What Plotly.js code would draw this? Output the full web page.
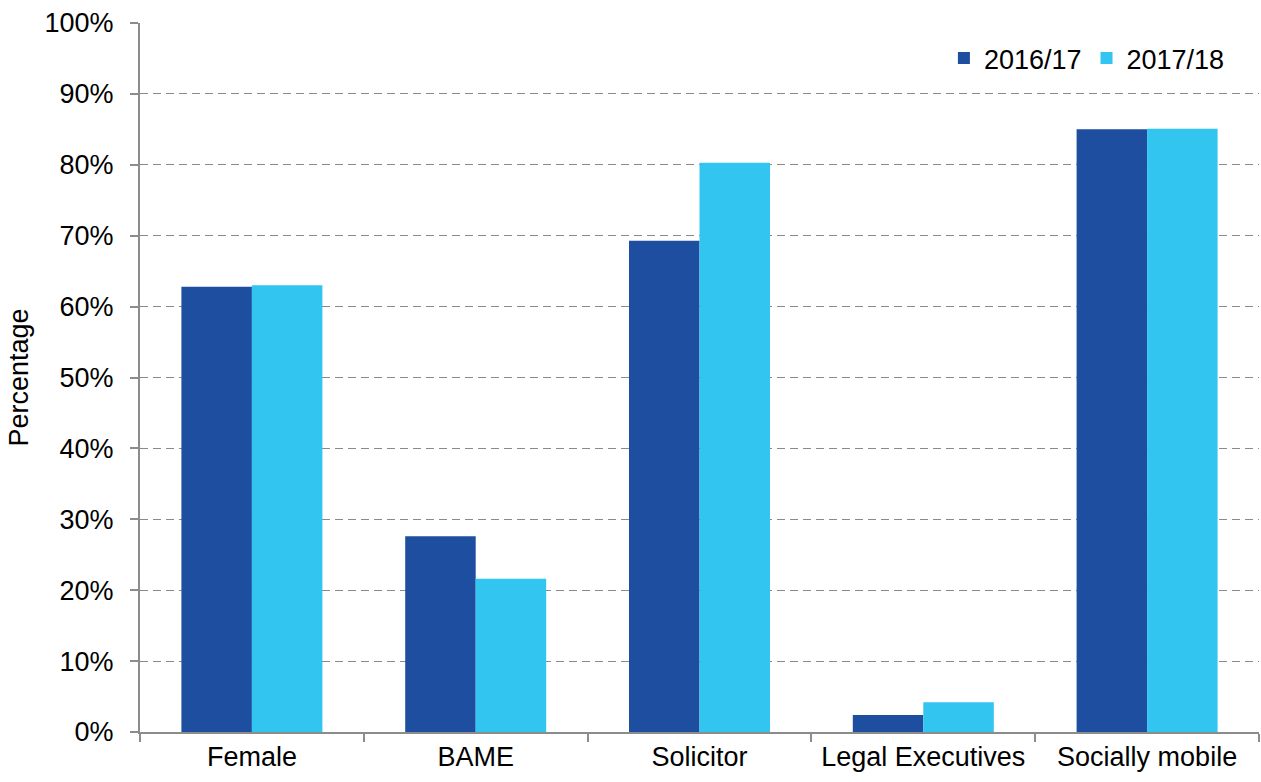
<!DOCTYPE html>
<html>
<head>
<meta charset="utf-8">
<script src="https://cdn.plot.ly/plotly-3.0.1.min.js"></script>
<style>html,body{margin:0;padding:0;background:#fff;}#chart{width:1261px;height:782px;}</style>
</head>
<body>
<div id="chart"></div>
<script>
const categories = ["Female", "BAME", "Solicitor", "Legal Executives", "Socially mobile"];
const series2016 = [62.8, 27.6, 69.3, 2.4, 85.0];
const series2017 = [63.0, 21.6, 80.3, 4.2, 85.1];
const seriesNames = ["2016/17", "2017/18"];
const yTickVals = [0, 10, 20, 30, 40, 50, 60, 70, 80, 90, 100];
const yTickLabels = ["0%", "10%", "20%", "30%", "40%", "50%", "60%", "70%", "80%", "90%", "100%"];

const FONT = "Liberation Sans, Arial, sans-serif";
const traces = [
  {type: "bar", name: seriesNames[0], x: categories, y: series2016,
   marker: {color: "#1D4E9F", line: {width: 0}}},
  {type: "bar", name: seriesNames[1], x: categories, y: series2017,
   marker: {color: "#31C5EF", line: {width: 0}}}
];
const layout = {
  width: 1261, height: 782,
  margin: {l: 140, r: 2, t: 23, b: 50},
  paper_bgcolor: "#fff", plot_bgcolor: "#fff",
  font: {family: FONT, size: 27, color: "#000"},
  barmode: "group", bargap: 0.37, bargroupgap: 0,
  showlegend: true,
  legend: {orientation: "h", x: 0.974, xanchor: "right", y: 0.95, yanchor: "middle",
           font: {family: FONT, size: 27, color: "#000"}, bgcolor: "rgba(0,0,0,0)",
           traceorder: "normal", itemwidth: 30},
  xaxis: {
    showline: true, linecolor: "#8c8c8c", linewidth: 2,
    ticks: "outside", tickson: "boundaries", ticklen: 8, tickcolor: "#8c8c8c", tickwidth: 2,
    showgrid: false, zeroline: false, automargin: false,
    tickfont: {family: FONT, size: 27, color: "#000"}
  },
  yaxis: {
    range: [0, 100], tickmode: "array", tickvals: yTickVals, ticktext: yTickLabels,
    showline: true, linecolor: "#8c8c8c", linewidth: 2,
    ticks: "outside", ticklen: 8, tickcolor: "#8c8c8c", tickwidth: 2,
    showgrid: true, gridcolor: "#8a8a8a", gridwidth: 1, griddash: "8px,5px",
    zeroline: false, ticklabelstandoff: 11, automargin: true,
    tickfont: {family: FONT, size: 27, color: "#000"},
    title: {text: "Percentage", font: {family: FONT, size: 27, color: "#000"}, standoff: 8}
  }
};
Plotly.newPlot("chart", traces, layout, {displayModeBar: false});
</script>
</body>
</html>
